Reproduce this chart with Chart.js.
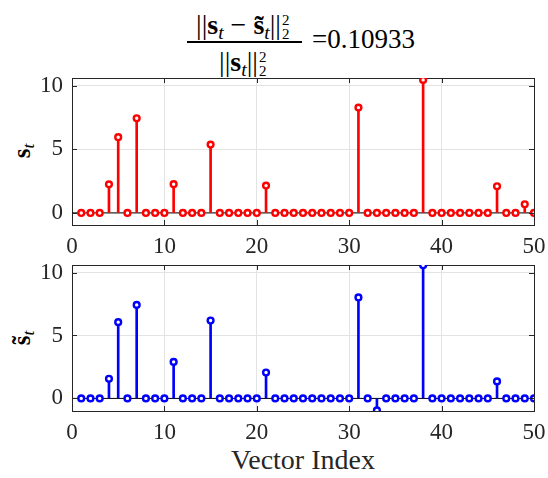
<!DOCTYPE html>
<html>
<head>
<meta charset="utf-8">
<script src="https://cdn.jsdelivr.net/npm/chart.js@4.4.0/dist/chart.umd.min.js"></script>
<style>
    body { margin: 0; background: #fff; width: 548px; height: 478px; overflow: hidden; position: relative; font-family: "Liberation Serif", serif; color: #000; }
    canvas { position: absolute; left: 0; }
    .txt { position: absolute; white-space: nowrap; line-height: 1; }
    .ss { display: inline-block; position: relative; width: 10px; height: 24px; vertical-align: -5px; margin-left: 1px; }
    .ss span { position: absolute; left: 0; font-size: 15px; line-height: 1; }
    .ss .u { top: -2px; }
    .ss .d { bottom: -3px; }
    sub.t { font-size: 0.7em; font-style: italic; vertical-align: -0.25em; }
    .rot { transform: translate(-50%, -50%) rotate(-90deg); }
</style>
</head>
<body>
<div class="txt" id="num" style="left:244px; top:11px; font-size:28px; transform:translateX(-50%);">||<b>s</b><sub class="t">t</sub> &minus; <b>s&#771;</b><sub class="t">t</sub>||<span class="ss"><span class="u">2</span><span class="d">2</span></span></div>
<div style="position:absolute; left:187px; top:41px; width:115px; height:1.5px; background:#000;"></div>
<div class="txt" id="den" style="left:244px; top:48px; font-size:28px; transform:translateX(-50%);">||<b>s</b><sub class="t">t</sub>||<span class="ss"><span class="u">2</span><span class="d">2</span></span></div>
<div class="txt" style="left:312px; top:26px; font-size:27px;">=0.10933</div>

<div class="txt rot" style="left:23px; top:151px; font-size:25px;"><b>s</b><sub class="t">t</sub></div>
<div class="txt rot" style="left:23px; top:338px; font-size:25px;"><b>s&#771;</b><sub class="t">t</sub></div>
<div class="txt" style="left:303px; top:446px; font-size:28px; color:#262626; transform:translateX(-50%);">Vector Index</div>

<canvas id="topChart" width="548" height="200" style="top:60px;"></canvas>
<canvas id="bottomChart" width="548" height="195" style="top:250px;"></canvas>

<script>
// === Data ===
const vectorIndex = [1, 2, 3, 4, 5, 6, 7, 8, 9, 10,
    11, 12, 13, 14, 15, 16, 17, 18, 19, 20,
    21, 22, 23, 24, 25, 26, 27, 28, 29, 30,
    31, 32, 33, 34, 35, 36, 37, 38, 39, 40,
    41, 42, 43, 44, 45, 46, 47, 48, 49, 50];

// true sparse vector s_t
const sTrue = [0, 0, 0, 2.25, 5.96, 0, 7.45, 0, 0, 0,
    2.26, 0, 0, 0, 5.38, 0, 0, 0, 0, 0,
    2.15, 0, 0, 0, 0, 0, 0, 0, 0, 0,
    8.29, 0, 0, 0, 0, 0, 0, 10.47, 0, 0,
    0, 0, 0, 0, 0, 2.1, 0, 0, 0.68, 0];

// recovered vector s~_t
const sEst = [0, 0, 0, 1.56, 6.06, 0, 7.43, 0, 0, 0,
    2.9, 0, 0, 0, 6.19, 0, 0, 0, 0, 0,
    2.06, 0, 0, 0, 0, 0, 0, 0, 0, 0,
    8.02, 0, -0.95, 0, 0, 0, 0, 10.58, 0, 0,
    0, 0, 0, 0, 0, 1.35, 0, 0, 0, 0];

const xTicks = [0, 10, 20, 30, 40, 50];
const yTicks = [0, 5, 10];

const axisColor = "#262626";
const gridColor = "#e3e3e3";
const tickFont = { family: "Liberation Serif", size: 23 };

// small inward ticks on all four sides, like a boxed matlab axes
const innerTicks = {
    id: "innerTicks",
    afterDraw(chart) {
        const { ctx, chartArea: a, scales } = chart;
        const len = 5;
        ctx.save();
        ctx.strokeStyle = axisColor;
        ctx.lineWidth = 1;
        ctx.beginPath();
        xTicks.forEach(v => {
            const px = Math.round(scales.x.getPixelForValue(v)) + 0.5;
            ctx.moveTo(px, a.bottom); ctx.lineTo(px, a.bottom - len);
            ctx.moveTo(px, a.top); ctx.lineTo(px, a.top + len);
        });
        yTicks.forEach(v => {
            const py = Math.round(scales.y.getPixelForValue(v)) + 0.5;
            ctx.moveTo(a.left, py); ctx.lineTo(a.left + len, py);
            ctx.moveTo(a.right, py); ctx.lineTo(a.right - len, py);
        });
        ctx.stroke();
        ctx.restore();
    }
};

function makeStemChart(id, values, color, yMin, yMax, padTop, xAxisHeight) {
    const ctx = document.getElementById(id).getContext("2d");

    new Chart(ctx, {
        type: "scatter",
        data: {
            datasets: [
                {
                    // markers
                    type: "scatter",
                    data: vectorIndex.map((x, i) => ({ x: x, y: values[i] })),
                    pointStyle: "circle",
                    pointRadius: 2.9,
                    pointBorderWidth: 2.4,
                    pointBorderColor: color,
                    pointBackgroundColor: "#ffffff",
                    order: 1
                },
                {
                    // stems
                    type: "bar",
                    data: vectorIndex.map((x, i) => ({ x: x, y: [0, values[i]] })),
                    backgroundColor: color,
                    borderWidth: 0,
                    barThickness: 2,
                    order: 2
                },
                {
                    // baseline
                    type: "line",
                    data: [{ x: 0, y: 0 }, { x: 50, y: 0 }],
                    borderColor: "#000000",
                    borderWidth: 1,
                    pointRadius: 0,
                    order: 3
                }
            ]
        },
        options: {
            responsive: false,
            animation: false,
            layout: { padding: { top: padTop, right: 14, left: 0, bottom: 0 } },
            scales: {
                x: {
                    type: "linear",
                    min: 0,
                    max: 50,
                    offset: false,
                    afterBuildTicks: s => { s.ticks = xTicks.map(v => ({ value: v })); },
                    afterFit: s => { s.height = xAxisHeight; s.paddingLeft = 0; s.paddingRight = 0; },
                    ticks: { color: axisColor, font: tickFont, padding: 8, maxRotation: 0 },
                    grid: { color: gridColor, drawTicks: false, offset: false },
                    border: { color: axisColor, width: 1 }
                },
                y: {
                    type: "linear",
                    min: yMin,
                    max: yMax,
                    afterBuildTicks: s => { s.ticks = yTicks.map(v => ({ value: v })); },
                    afterFit: s => { s.width = 72; s.paddingTop = 0; s.paddingBottom = 0; },
                    ticks: { color: axisColor, font: tickFont, padding: 9 },
                    grid: { color: gridColor, drawTicks: false },
                    border: { color: axisColor, width: 1 }
                },
                x2: {
                    type: "linear",
                    position: "top",
                    min: 0,
                    max: 50,
                    offset: false,
                    afterFit: s => { s.height = 0; s.paddingLeft = 0; s.paddingRight = 0; },
                    ticks: { display: false },
                    grid: { display: false, drawTicks: false },
                    border: { display: true, color: axisColor, width: 1 }
                },
                y2: {
                    type: "linear",
                    position: "right",
                    min: yMin,
                    max: yMax,
                    afterFit: s => { s.width = 0; s.paddingTop = 0; s.paddingBottom = 0; },
                    ticks: { display: false },
                    grid: { display: false, drawTicks: false },
                    border: { display: true, color: axisColor, width: 1 }
                }
            },
            plugins: {
                legend: { display: false },
                tooltip: { enabled: false }
            }
        },
        plugins: [innerTicks]
    });
}

makeStemChart("topChart", sTrue, "#ff0000", -0.95, 10.62, 18, 35);
makeStemChart("bottomChart", sEst, "#0000ff", -1.0, 10.6, 15, 34);
</script>
</body>
</html>
